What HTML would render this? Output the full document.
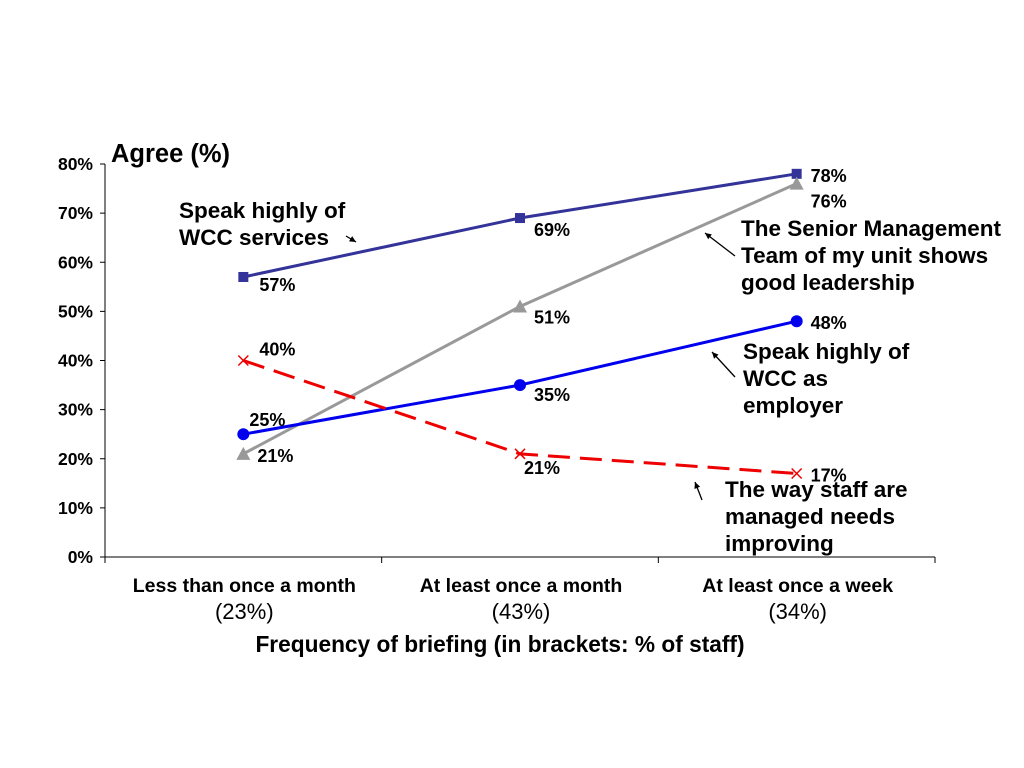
<!DOCTYPE html>
<html><head><meta charset="utf-8"><style>
body{margin:0;background:#fff;}
svg{display:block;font-family:"Liberation Sans",sans-serif;}
</style></head><body>
<svg id="chart" width="1024" height="768">
<g id="axes"></g><g id="series"></g><g id="notes"></g>
</svg>
<script>
const categories=["Less than once a month","At least once a month","At least once a week"];
const catShares=["(23%)","(43%)","(34%)"];
const yTicks=[0,10,20,30,40,50,60,70,80];
const servicesVals=[57,69,78];
const smtVals=[21,51,76];
const employerVals=[25,35,48];
const managedVals=[40,21,17];

const NS="http://www.w3.org/2000/svg";
const x0=105,x1=935,yBase=557,yTop=164;
function y(v){return yBase-(v/80)*(yBase-yTop);}
function x(i){return x0+(x1-x0)*(i+0.5)/categories.length;}
function mk(tag,attrs,parent,text){const e=document.createElementNS(NS,tag);for(const k in attrs)e.setAttribute(k,attrs[k]);if(text!==undefined)e.textContent=text;parent.appendChild(e);return e;}
const axes=document.getElementById('axes'),series=document.getElementById('series'),notes=document.getElementById('notes');

let a=mk('line',{x1:x0,y1:yTop,x2:x0,y2:yBase,stroke:'#000'},axes);


a=mk('line',{x1:x0,y1:yBase,x2:x1,y2:yBase,stroke:'#000'},axes);


yTicks.forEach(t=>{
  mk('line',{x1:x0-5,y1:y(t),x2:x0,y2:y(t),stroke:'#000'},axes);
  const tx=mk('text',{x:x0-12,y:y(t)+6,'text-anchor':'end','font-size':17.5,'font-weight':'bold'},axes,t+'%');
  
  
});
for(let i=0;i<=categories.length;i++){const px=x0+(x1-x0)*i/categories.length;mk('line',{x1:px,y1:yBase,x2:px,y2:yBase+6,stroke:'#000'},axes);}
categories.forEach((c,i)=>{
  const t=mk('text',{x:x(i)+1,y:592,'text-anchor':'middle','font-size':19.5,'font-weight':'bold'},axes,c);
  
  
  const s=mk('text',{x:x(i)+1,y:619,'text-anchor':'middle','font-size':22},axes,catShares[i]);
  
  
});
let t=mk('text',{x:500,y:652,'text-anchor':'middle','font-size':22.7,'font-weight':'bold'},axes,'Frequency of briefing (in brackets: % of staff)');


t=mk('text',{x:111,y:162,'font-size':25.5,'font-weight':'bold'},axes,'Agree (%)');



function drawSeries(vals,color,marker,name,dash,labelOff){
  const pts=vals.map((v,i)=>x(i)+','+y(v)).join(' ');
  const pl=mk('polyline',{points:pts,fill:'none',stroke:color,'stroke-width':3,'stroke-dasharray':dash||'none'},series);
  
  
  vals.forEach((v,i)=>{
    const cx=x(i),cy=y(v);let m;
    if(marker==='square')m=mk('rect',{x:cx-5,y:cy-5,width:10,height:10,fill:color},series);
    else if(marker==='circle')m=mk('circle',{cx:cx,cy:cy,r:6,fill:color},series);
    else if(marker==='tri')m=mk('polygon',{points:`${cx},${cy-7} ${cx+7},${cy+6} ${cx-7},${cy+6}`,fill:color},series);
    else m=mk('path',{d:`M${cx-5} ${cy-5}L${cx+5} ${cy+5}M${cx+5} ${cy-5}L${cx-5} ${cy+5}`,stroke:color,'stroke-width':1.5},series);
    
    
    const o=labelOff[i];
    const l=mk('text',{x:cx+o[0],y:cy+o[1],'font-size':18,'font-weight':'bold'},series,v+'%');
    
    
  });
}
drawSeries(servicesVals,'#333399','square','services',null,[[16,14],[14,18],[14,8]]);
drawSeries(smtVals,'#999999','tri','senior-management',null,[[14,8],[14,17],[14,24]]);
drawSeries(employerVals,'#0000ee','circle','employer',null,[[6,-8],[14,16],[14,8]]);
drawSeries(managedVals,'#ee0000','cross','managed-staff','22,10',[[16,-5],[4,20],[14,8]]);

function note(lines,xx,yy,name){
  const g=mk('text',{x:xx,y:yy,'font-size':22.5,'font-weight':'bold'},notes);
  
  
  lines.forEach((s,i)=>mk('tspan',{x:xx,dy:i?27:0},g,s));
}
function arrow(x1,y1,x2,y2){
  mk('line',{x1,y1,x2,y2,stroke:'#000','stroke-width':1.3},notes);
  const ang=Math.atan2(y2-y1,x2-x1),L=7;
  mk('polygon',{points:`${x2},${y2} ${x2-L*Math.cos(ang-0.45)},${y2-L*Math.sin(ang-0.45)} ${x2-L*Math.cos(ang+0.45)},${y2-L*Math.sin(ang+0.45)}`,fill:'#000'},notes);
}
note(['Speak highly of','WCC services'],179,218,'services-annotation');
arrow(346,236,356,242);
note(['The Senior Management','Team of my unit shows','good leadership'],741,236,'senior-management-annotation');
arrow(735,256,705,233);
note(['Speak highly of','WCC as','employer'],743,359,'employer-annotation');
arrow(735,377,712,352);
note(['The way staff are','managed needs','improving'],725,497,'managed-staff-annotation');
arrow(702,500,695,482);
</script>
</body></html>
